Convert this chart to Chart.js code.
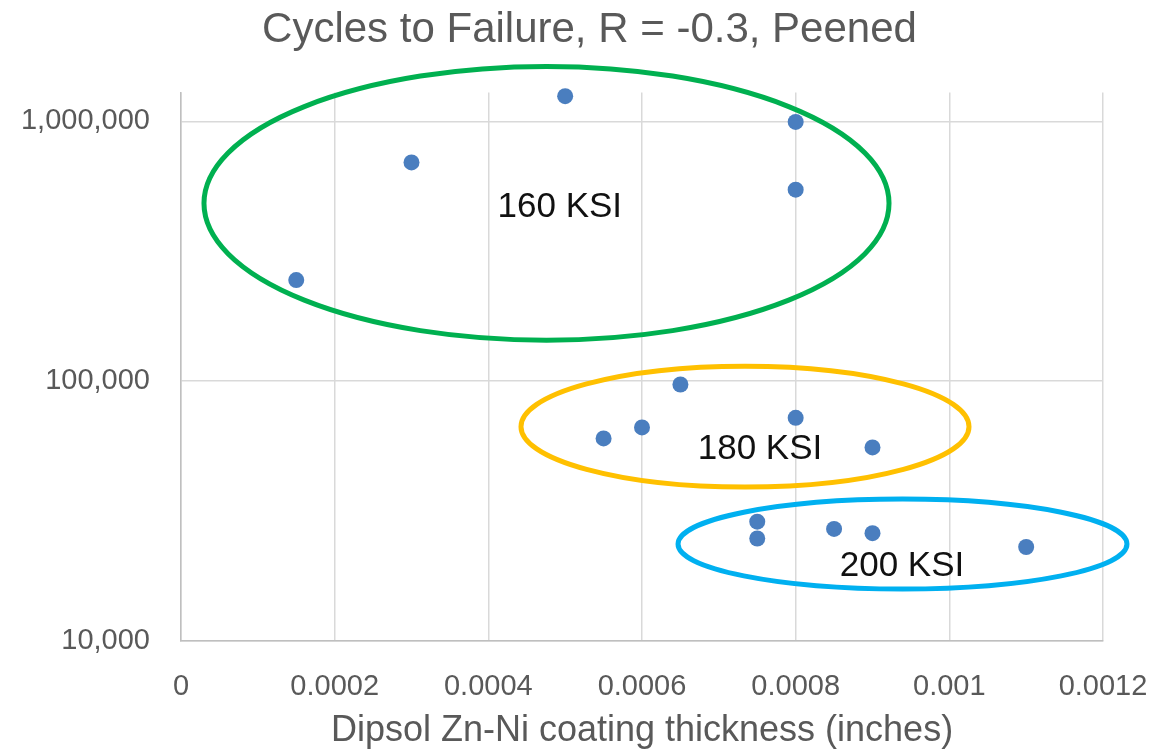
<!DOCTYPE html>
<html><head><meta charset="utf-8">
<script src="https://cdn.jsdelivr.net/npm/chart.js@4/dist/chart.umd.min.js"></script>
<style>html,body{margin:0;padding:0;background:#fff}#wrap{width:1152px;height:753px}</style>
</head><body><div id="wrap"><canvas id="c" width="1152" height="753"></canvas></div>
<script>
const chartTitle = 'Cycles to Failure, R = -0.3, Peened';
const xAxisTitle = 'Dipsol Zn-Ni coating thickness (inches)';
const thickness = [0.00015, 0.0003, 0.0005, 0.0008, 0.0008, 0.00055, 0.0006, 0.00065, 0.0008, 0.0009, 0.00075, 0.00075, 0.00085, 0.0009, 0.0011];
const cycles    = [245000, 695000, 1250000, 995000, 546000, 60200, 66400, 97100, 72300, 55600, 28800, 24800, 27000, 26000, 23000];
const xTickLabels = ['0', '0.0002', '0.0004', '0.0006', '0.0008', '0.001', '0.0012'];
const yTickValues = [10000, 100000, 1000000];
const yTickLabels = ['10,000', '100,000', '1,000,000'];
const groupNames = ['160 KSI', '180 KSI', '200 KSI'];
const groupColors = ['#00B050', '#FFC000', '#00B0F0'];
const groupXMin = [0.0000299, 0.0004425, 0.0006469];
const groupXMax = [0.0009215, 0.0010256, 0.0012312];
const groupYMax = [1627000, 114200, 35170];
const groupYMin = [143800, 39110, 15850];
const labelX = [0.000493, 0.0007536, 0.0009384];
const labelY = [466700, 54760, 19430];

const FONT = "'Liberation Sans', Arial, sans-serif";

const groupPlugin = {
  id: 'groups',
  afterDatasetsDraw(chart) {
    const {ctx, scales: {x, y}} = chart;
    ctx.save();
    for (let i = 0; i < groupNames.length; i++) {
      const l = x.getPixelForValue(groupXMin[i]), r = x.getPixelForValue(groupXMax[i]);
      const t = y.getPixelForValue(groupYMax[i]), b = y.getPixelForValue(groupYMin[i]);
      ctx.beginPath();
      ctx.ellipse((l + r) / 2, (t + b) / 2, (r - l) / 2, (b - t) / 2, 0, 0, Math.PI * 2);
      ctx.strokeStyle = groupColors[i];
      ctx.lineWidth = 5;
      ctx.stroke();
    }
    ctx.fillStyle = '#111';
    ctx.font = '35px ' + FONT;
    ctx.textAlign = 'center';
    ctx.textBaseline = 'middle';
    for (let i = 0; i < groupNames.length; i++) {
      ctx.fillText(groupNames[i], x.getPixelForValue(labelX[i]), y.getPixelForValue(labelY[i]));
    }
    ctx.restore();
  }
};

new Chart(document.getElementById('c'), {
  type: 'scatter',
  data: {
    datasets: [{
      data: thickness.map((v, i) => ({x: v, y: cycles[i]})),
      backgroundColor: '#4a7ebf',
      borderColor: '#4a7ebf',
      pointRadius: 8,
      pointHoverRadius: 8,
      borderWidth: 0,
      clip: false
    }]
  },
  options: {
    responsive: false,
    animation: false,
    layout: {padding: {left: 10, right: -17, top: 0, bottom: 0}},
    plugins: {
      legend: {display: false},
      tooltip: {enabled: false},
      title: {
        display: true, text: chartTitle, color: '#595959',
        font: {family: FONT, size: 42, weight: 'normal'},
        padding: {top: 5, bottom: 37}
      }
    },
    scales: {
      x: {
        type: 'linear', min: 0, max: 0.0012,
        grid: {color: '#d9d9d9', lineWidth: 1.5, drawTicks: false},
        border: {color: '#bfbfbf', width: 1.5},
        ticks: {
          stepSize: 0.0002, color: '#595959', padding: 29,
          font: {family: FONT, size: 29},
          callback: (v, i) => xTickLabels[i]
        },
        title: {
          display: true, text: xAxisTitle, color: '#595959',
          font: {family: FONT, size: 36}, padding: {top: 0, bottom: 0}
        },
        afterFit: s => { s.height = 112; s.paddingLeft = 0; s.paddingRight = 49; }
      },
      y: {
        type: 'logarithmic', min: 10000, max: 1293000,
        grid: {color: '#d9d9d9', lineWidth: 1.5, drawTicks: false},
        border: {color: '#bfbfbf', width: 1.5},
        afterBuildTicks: s => { s.ticks = yTickValues.map(v => ({value: v})); },
        ticks: {
          color: '#595959', padding: 31,
          font: {family: FONT, size: 29},
          callback: (v, i) => yTickLabels[i]
        },
        afterFit: s => { s.width = 171; s.paddingTop = 0; s.paddingBottom = 0; }
      }
    }
  },
  plugins: [groupPlugin]
});
</script>
</body></html>
